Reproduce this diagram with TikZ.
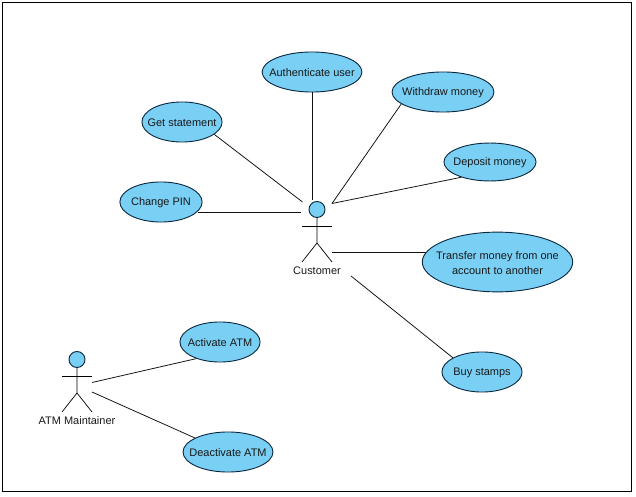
\documentclass[tikz,border=0pt]{standalone}
\usepackage{fontspec}
\setmainfont{Liberation Sans}
\usetikzlibrary{shapes.geometric,calc}
\definecolor{casefill}{HTML}{7ACFF5}
\definecolor{caseline}{HTML}{0B2A40}
\definecolor{assocline}{HTML}{111111}
\tikzset{
  usecase/.style={ellipse,draw=caseline,fill=casefill,line width=0.65pt,inner ysep=0pt,inner xsep=-6.5pt,align=center,text height=7pt,font=\fontsize{7.8}{11}\selectfont,text=black!90},
  actorhead/.style={circle,draw=caseline,fill=casefill,line width=0.65pt,inner sep=0pt,minimum size=11.4pt},
  actorname/.style={inner sep=0pt,font=\fontsize{7.8}{10}\selectfont,text=black!90},
  assoc/.style={line width=0.55pt,draw=assocline},
  limb/.style={line width=0.5pt,draw=black}
}
\begin{document}
\begin{tikzpicture}[x=0.25mm,y=0.25mm]
  \useasboundingbox (0,0) rectangle (636,496);
  \fill[white] (0,0) rectangle (636,496);
  \draw[line width=0.9pt,draw=black] (2.5,4.5) rectangle (631.5,493.5);
  % use cases
  \node[usecase,minimum width=71pt,minimum height=28.5pt] (authenticate) at (312,424) {Authenticate user};
  \node[usecase,minimum width=72.5pt,minimum height=28.5pt] (withdraw) at (443,404) {Withdraw money};
  \node[usecase,minimum width=65.5pt,minimum height=27pt] (deposit) at (490,334) {Deposit money};
  \node[usecase,minimum width=57pt,minimum height=28.5pt] (statement) at (182,374) {Get statement};
  \node[usecase,minimum width=58.5pt,minimum height=28.5pt] (changepin) at (161,294) {Change PIN};
  \node[usecase,text height=18.4pt,minimum width=107pt,minimum height=42.5pt] (transfer) at (497.5,234) {Transfer money from one\\account to another};
  \node[usecase,minimum width=57pt,minimum height=28.5pt] (stamps) at (482,124) {Buy stamps};
  \node[usecase,minimum width=57pt,minimum height=28.5pt] (activate) at (220,154) {Activate ATM};
  \node[usecase,minimum width=64pt,minimum height=28.5pt] (deactivate) at (228,44) {Deactivate ATM};
  % actors
  \node[actorhead] (customer) at (317,286.5) {};
  \draw[limb] (customer.south) -- (317,253) -- (302,234);
  \draw[limb] (317,253) -- (332,234);
  \draw[limb] (302,270) -- (332,270);
  \node[actorname] (customername) at (317,225.5) {Customer};
  \node[actorhead] (maintainer) at (77,136.5) {};
  \draw[limb] (maintainer.south) -- (77,103) -- (62,84);
  \draw[limb] (77,103) -- (92,84);
  \draw[limb] (62,120) -- (92,120);
  \node[actorname] (maintainername) at (77,75.5) {ATM Maintainer};
  % free ends beside the actors
  \coordinate (custtop) at (312,295.5);
  \coordinate (custleft) at (302.5,294);
  \coordinate (custmid) at (301,283.5);
  \coordinate (custright) at (332,292.5);
  \coordinate (custlow) at (332,244);
  \coordinate (custbottom) at (351,220);
  \coordinate (mainup) at (92,113.5);
  \coordinate (maindown) at (92,104);
  % associations
  \draw[assoc] (authenticate.south) -- (custtop);
  \draw[assoc] (statement.-21.5) -- (custleft);
  \draw[assoc] (changepin.-14.6 |- custmid) -- (custmid);
  \draw[assoc] (withdraw.-164) -- (custright);
  \draw[assoc] (deposit.-152) -- (custright);
  \draw[assoc] (custlow) -- (transfer.188 |- custlow);
  \draw[assoc] (custbottom) -- (stamps.154);
  \draw[assoc] (mainup) -- (activate.-145);
  \draw[assoc] (maindown) -- (deactivate.157);
\end{tikzpicture}
\end{document}
